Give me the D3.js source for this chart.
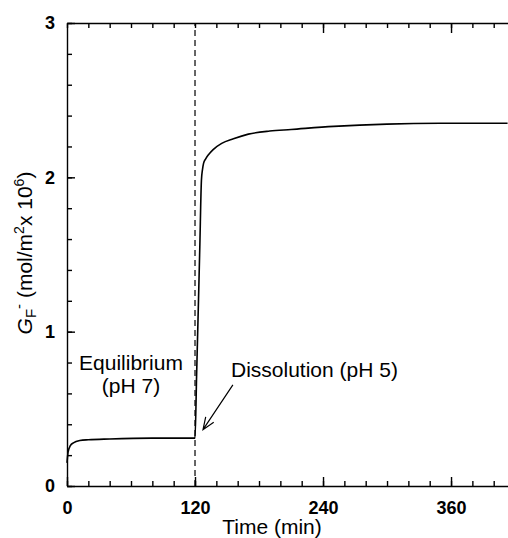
<!DOCTYPE html>
<html>
<head>
<meta charset="utf-8">
<script src="https://cdn.jsdelivr.net/npm/d3@7"></script>
<style>
  html, body { margin: 0; padding: 0; background: #fff; }
  svg { display: block; font-family: "Liberation Sans", Arial, sans-serif; }
</style>
</head>
<body>
<div id="chart"></div>
<script>
// fluoride surface concentration vs time
const timeMin = [0, 1, 3, 6, 12, 20, 40, 80, 120, 121.5, 123, 124.5, 126, 127, 128, 130, 133, 137, 145, 156, 170, 190, 210, 250, 300, 350, 413];
const gF = [0.15, 0.22, 0.26, 0.28, 0.295, 0.30, 0.305, 0.31, 0.31, 0.72, 1.13, 1.55, 1.98, 2.05, 2.09, 2.12, 2.15, 2.18, 2.22, 2.25, 2.28, 2.30, 2.31, 2.33, 2.345, 2.35, 2.35];

const xMajorTicks = [0, 120, 240, 360];
const xMinorTicks = d3.range(0, 420, 20);
const yMajorTicks = [0, 1, 2, 3];
const yMinorTicks = d3.range(0, 3.01, 0.2);

const switchTime = 120;          // dashed line: equilibrium -> dissolution
const arrowFrom = [155.5, 0.655];
const arrowTo = [127.5, 0.365];

const width = 508, height = 538;
const margin = { left: 67, top: 23, right: 0, bottom: 52 };

const svg = d3.select("#chart").append("svg")
    .attr("width", width)
    .attr("height", height);

const x = d3.scaleLinear().domain([0, 413.4]).range([margin.left, width - margin.right]);
const y = d3.scaleLinear().domain([0, 3]).range([height - margin.bottom, margin.top]);

// axes: ticks point into the plot
const fmtNone = () => "";

function styleAxis(g) {
    g.selectAll("path, line").attr("stroke", "#000").attr("stroke-width", 1.4);
    g.selectAll("text").attr("fill", "#000");
}

// bottom
svg.append("g")
    .attr("transform", `translate(0,${y(0)})`)
    .call(d3.axisBottom(x).tickValues(xMinorTicks).tickSizeInner(-5).tickSizeOuter(0).tickFormat(fmtNone))
    .call(styleAxis);
svg.append("g")
    .attr("transform", `translate(0,${y(0)})`)
    .call(d3.axisBottom(x).tickValues(xMajorTicks).tickSizeInner(-9).tickSizeOuter(0).tickPadding(15))
    .call(styleAxis)
    .call(g => g.select(".domain").remove())
    .selectAll("text")
    .attr("font-size", 18)
    .attr("font-weight", "bold")
    .attr("font-family", "Liberation Sans, Arial, sans-serif");

// top
svg.append("g")
    .attr("transform", `translate(0,${y(3)})`)
    .call(d3.axisTop(x).tickValues(xMinorTicks).tickSizeInner(-5).tickSizeOuter(0).tickFormat(fmtNone))
    .call(styleAxis);
svg.append("g")
    .attr("transform", `translate(0,${y(3)})`)
    .call(d3.axisTop(x).tickValues([240, 360]).tickSizeInner(-10).tickSizeOuter(0).tickFormat(fmtNone))
    .call(styleAxis)
    .call(g => g.select(".domain").remove());

// left
svg.append("g")
    .attr("transform", `translate(${x(0)},0)`)
    .call(d3.axisLeft(y).tickValues(yMinorTicks).tickSizeInner(-5).tickSizeOuter(0).tickFormat(fmtNone))
    .call(styleAxis);
svg.append("g")
    .attr("transform", `translate(${x(0)},0)`)
    .call(d3.axisLeft(y).tickValues(yMajorTicks).tickSizeInner(-8).tickSizeOuter(0).tickPadding(12).tickFormat(d3.format("d")))
    .call(styleAxis)
    .call(g => g.select(".domain").remove())
    .selectAll("text")
    .attr("font-size", 18)
    .attr("font-weight", "bold")
    .attr("font-family", "Liberation Sans, Arial, sans-serif");

// dashed switch line
svg.append("line")
    .attr("x1", x(switchTime)).attr("x2", x(switchTime))
    .attr("y1", y(0)).attr("y2", y(3))
    .attr("stroke", "#000")
    .attr("stroke-width", 1.2)
    .attr("stroke-dasharray", "6,4");

// data curve
const line = d3.line()
    .x((d, i) => x(timeMin[i]))
    .y(d => y(d))
    .curve(d3.curveMonotoneX);

svg.append("path")
    .datum(gF)
    .attr("d", line)
    .attr("fill", "none")
    .attr("stroke", "#000")
    .attr("stroke-width", 1.6);

// annotations
const labels = svg.append("g").attr("font-size", 21).attr("fill", "#000");
labels.append("text")
    .attr("x", 131).attr("y", 370)
    .attr("text-anchor", "middle")
    .text("Equilibrium");
labels.append("text")
    .attr("x", 131).attr("y", 393)
    .attr("text-anchor", "middle")
    .text("(pH 7)");
labels.append("text")
    .attr("x", 231).attr("y", 377)
    .text("Dissolution (pH 5)");

// arrow with open head
const ax0 = x(arrowFrom[0]), ay0 = y(arrowFrom[1]);
const ax1 = x(arrowTo[0]), ay1 = y(arrowTo[1]);
const ang = Math.atan2(ay1 - ay0, ax1 - ax0);
const headLen = 13, headAng = 0.38;
svg.append("path")
    .attr("d", `M${ax0},${ay0}L${ax1},${ay1}` +
        `M${ax1 - headLen * Math.cos(ang - headAng)},${ay1 - headLen * Math.sin(ang - headAng)}L${ax1},${ay1}` +
        `L${ax1 - headLen * Math.cos(ang + headAng)},${ay1 - headLen * Math.sin(ang + headAng)}`)
    .attr("fill", "none")
    .attr("stroke", "#000")
    .attr("stroke-width", 1.2);

// axis titles
svg.append("text")
    .attr("x", 272).attr("y", 534)
    .attr("text-anchor", "middle")
    .attr("font-size", 21)
    .text("Time (min)");

const yTitle = svg.append("text")
    .attr("transform", "translate(32,253) rotate(-90)")
    .attr("text-anchor", "middle")
    .attr("font-size", 21);
yTitle.append("tspan").attr("font-style", "italic").text("G");
yTitle.append("tspan").attr("font-size", 15).attr("dy", 4).text("F");
yTitle.append("tspan").attr("font-size", 15).attr("dy", -12).text("-");
yTitle.append("tspan").attr("dy", 8).text(" (mol/m");
yTitle.append("tspan").attr("font-size", 14).attr("dy", -8).text("2");
yTitle.append("tspan").attr("dy", 8).text("x 10");
yTitle.append("tspan").attr("font-size", 14).attr("dy", -8).text("6");
yTitle.append("tspan").attr("dy", 8).text(")");
</script>
</body>
</html>
